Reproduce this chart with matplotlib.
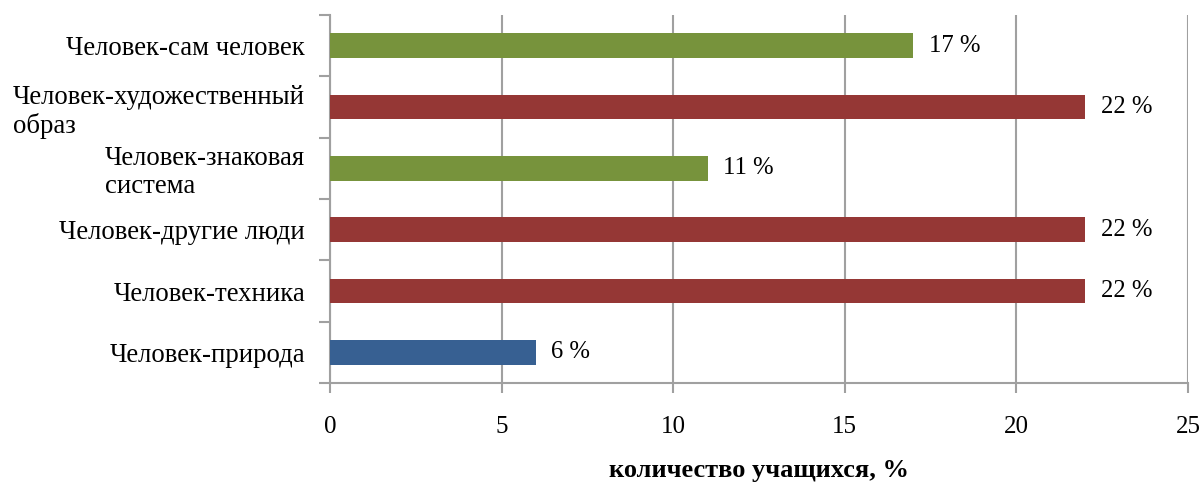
import matplotlib.pyplot as plt
import numpy as np

plt.rcParams['font.family'] = ['Liberation Serif', 'DejaVu Serif']

# categories from bottom to top
categories = ['Человек-природа', 'Человек-техника', 'Человек-другие люди',
              'Человек-знаковая\nсистема', 'Человек-художественный\nобраз',
              'Человек-сам человек']
values = [6, 22, 22, 11, 22, 17]
colors = ['#376092', '#953735', '#953735', '#77933C', '#953735', '#77933C']
xticks = [0, 5, 10, 15, 20, 25]

fig = plt.figure(figsize=(12.01, 4.86), dpi=100)
ax = fig.add_axes([0.2748, 0.2119, 0.7144, 0.7572])

y = np.arange(len(categories))
ax.barh(y, values, height=0.4, color=colors, zorder=3)

for yi, v in zip(y, values):
    ax.text(v + 0.45, yi, f'{v} %', va='center', ha='left', fontsize=17.7)

ax.set_xlim(0, 25)
ax.set_ylim(-0.5, len(categories) - 0.5)
ax.set_xticks(xticks)
ax.set_xticklabels([str(t) for t in xticks], fontsize=18)
ax.tick_params(axis='x', length=7, width=1.5, color='#A0A0A0', pad=17)

ax.set_yticks(y)
ax.set_yticklabels(categories, fontsize=19.3, linespacing=1.15)
for lbl in ax.get_yticklabels():
    lbl.set_multialignment('left')
ax.tick_params(axis='y', length=0, pad=18)
ax.set_yticks(np.arange(-0.5, len(categories), 1.0), minor=True)
ax.tick_params(axis='y', which='minor', length=8, width=1.5, color='#A0A0A0')

ax.grid(axis='x', color='#A0A0A0', linewidth=1.5, zorder=0)
for s in ['top', 'right']:
    ax.spines[s].set_visible(False)
for s in ['left', 'bottom']:
    ax.spines[s].set_color('#A0A0A0')
    ax.spines[s].set_linewidth(1.5)

ax.set_xlabel('количество учащихся, %', fontsize=19, fontweight='bold', labelpad=15)

fig.savefig('out.png', dpi=100)
